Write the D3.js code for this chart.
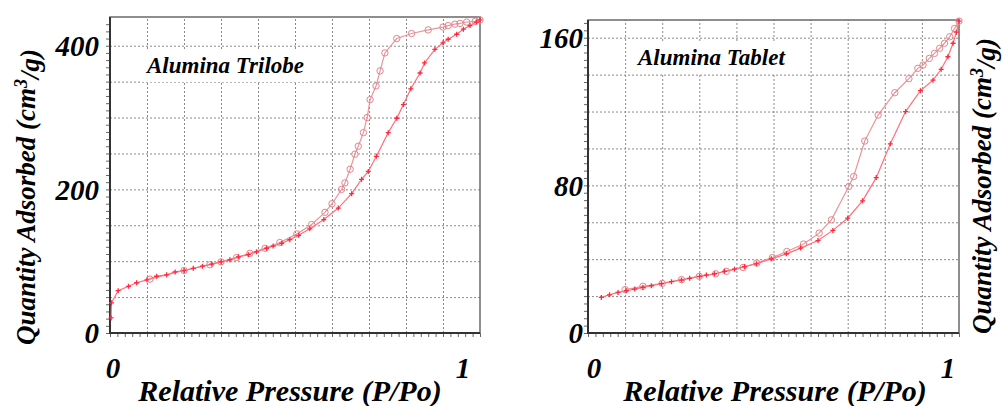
<!DOCTYPE html>
<html lang="en">
  <head>
    <meta charset="UTF-8" />
    <title>isotherms</title>
    <script src="https://cdn.jsdelivr.net/npm/d3@7"></script>
    <style>
      body { margin: 0; background: #fff; }
      text { font-family: "Liberation Serif", "DejaVu Serif", serif; font-weight: bold; font-style: italic; fill: #000; }
    </style>
  </head>
  <body>
    <div id="wrapper"></div>
    <script>
      // Alumina Trilobe
      const trilobeAdsP = [0.003, 0.004, 0.022, 0.05, 0.072, 0.1, 0.126, 0.153, 0.176, 0.2, 0.225, 0.25, 0.275, 0.3, 0.324, 0.347, 0.374, 0.396, 0.423, 0.441, 0.464, 0.486, 0.51, 0.54, 0.578, 0.617, 0.653, 0.68, 0.698, 0.72, 0.752, 0.775, 0.793, 0.813, 0.838, 0.85, 0.878, 0.9, 0.914, 0.937, 0.955, 0.973, 0.99, 1.0];
      const trilobeAdsQ = [21, 42, 59, 65, 70, 74, 79, 81, 85, 87, 90, 93, 96, 99, 102, 106, 109, 113, 118, 121, 125, 130, 136, 145, 158, 174, 194, 214, 225, 246, 279, 299, 318, 340, 362, 376, 395, 404, 409, 416, 423, 428, 433, 436];
      const trilobeDesP = [1.0, 0.987, 0.964, 0.946, 0.932, 0.914, 0.9, 0.86, 0.815, 0.775, 0.743, 0.73, 0.719, 0.703, 0.695, 0.685, 0.671, 0.662, 0.649, 0.635, 0.626, 0.6, 0.581, 0.545, 0.505, 0.459, 0.419, 0.378, 0.342, 0.3, 0.27, 0.2, 0.108];
      const trilobeDesQ = [436, 434, 433, 431, 430, 428, 426, 422, 417, 410, 390, 365, 344, 325, 300, 279, 260, 249, 228, 209, 200, 180, 168, 151, 138, 126, 118, 111, 105, 99, 95, 87, 75];

      // Alumina Tablet
      const tabletAdsP = [0.036, 0.058, 0.081, 0.103, 0.126, 0.148, 0.171, 0.198, 0.225, 0.252, 0.274, 0.301, 0.319, 0.341, 0.368, 0.395, 0.422, 0.454, 0.494, 0.535, 0.573, 0.62, 0.66, 0.7, 0.74, 0.777, 0.815, 0.856, 0.896, 0.93, 0.952, 0.97, 0.984, 0.993, 1.0];
      const tabletAdsQ = [19.3, 20.7, 22, 22.9, 23.8, 24.7, 25.6, 26.7, 27.8, 28.7, 29.6, 30.7, 31.4, 32.1, 33.4, 34.6, 36, 37.5, 40.2, 42.9, 46, 50.1, 55.6, 62.2, 71.6, 84.2, 102.5, 120, 131.3, 137, 142.9, 149.7, 157, 163, 169];
      const tabletDesP = [1.0, 0.988, 0.975, 0.961, 0.948, 0.934, 0.92, 0.903, 0.889, 0.865, 0.827, 0.782, 0.746, 0.716, 0.703, 0.656, 0.623, 0.581, 0.536, 0.497, 0.455, 0.418, 0.373, 0.344, 0.3, 0.252, 0.2, 0.148, 0.1];
      const tabletDesQ = [169, 165, 160.5, 157, 154.3, 151.5, 148.8, 145.2, 143.4, 137.8, 130.2, 118.1, 104, 84.8, 79.4, 61.3, 54.1, 48.2, 44.2, 40.9, 37.9, 35.5, 33.4, 32.1, 30.7, 28.9, 26.9, 25.3, 23.5];

      const trilobeYTicks = [0, 200, 400];
      const tabletYTicks = [0, 80, 160];
      const xTickLabels = ["0", "1"];

      const zip = (xs, ys) => xs.map((x, i) => ({ p: x, q: ys[i] }));

      const svg = d3.select("#wrapper").append("svg")
        .attr("width", 1003).attr("height", 406);

      const panels = [
        {
          title: "Alumina Trilobe", left: 110, right: 480, top: 17, bottom: 333,
          yMax: 440, yGrid: 50, yMinor: 10, yTicks: trilobeYTicks,
          ads: zip(trilobeAdsP, trilobeAdsQ), des: zip(trilobeDesP, trilobeDesQ),
          titleX: 147, titleY: 73, yLabelX: 35, yLabelY: 197,
          x0: 113, x1: 463, tickRight: 99, xTitleX: 290,
        },
        {
          title: "Alumina Tablet", left: 588, right: 959, top: 20, bottom: 333,
          yMax: 169.6, yGrid: 20, yMinor: 4, yTicks: tabletYTicks,
          ads: zip(tabletAdsP, tabletAdsQ), des: zip(tabletDesP, tabletDesQ),
          titleX: 638, titleY: 65, yLabelX: 991, yLabelY: 186,
          x0: 594, x1: 948, tickRight: 583, xTitleX: 775,
        },
      ];

      panels.forEach((pn) => {
        const xScale = d3.scaleLinear().domain([0, 1]).range([pn.left, pn.right]);
        const yScale = d3.scaleLinear().domain([0, pn.yMax]).range([pn.bottom, pn.top]);
        const g = svg.append("g");

        // dotted grid
        g.append("g")
          .attr("transform", `translate(0,${pn.bottom})`)
          .call(d3.axisBottom(xScale).tickValues(d3.range(0.1, 1, 0.1))
            .tickSize(-(pn.bottom - pn.top)).tickFormat(""))
          .call((a) => a.select(".domain").remove())
          .selectAll("line").attr("stroke", "#8a8a8a").attr("stroke-dasharray", "2,2");
        g.append("g")
          .attr("transform", `translate(${pn.left},0)`)
          .call(d3.axisLeft(yScale).tickValues(d3.range(pn.yGrid, pn.yMax, pn.yGrid))
            .tickSize(-(pn.right - pn.left)).tickFormat(""))
          .call((a) => a.select(".domain").remove())
          .selectAll("line").attr("stroke", "#8a8a8a").attr("stroke-dasharray", "2,2");

        // minor ticks
        g.append("g")
          .attr("transform", `translate(0,${pn.bottom})`)
          .call(d3.axisBottom(xScale).tickValues(d3.range(0, 1.001, 0.02)).tickSize(4).tickFormat(""))
          .call((a) => a.select(".domain").remove())
          .selectAll("line").attr("stroke", "#666");
        g.append("g")
          .attr("transform", `translate(${pn.left},0)`)
          .call(d3.axisLeft(yScale).tickValues(d3.range(0, pn.yMax, pn.yMinor)).tickSize(4).tickFormat(""))
          .call((a) => a.select(".domain").remove())
          .selectAll("line").attr("stroke", "#666");

        // frame
        g.append("rect")
          .attr("x", pn.left).attr("y", pn.top)
          .attr("width", pn.right - pn.left).attr("height", pn.bottom - pn.top)
          .attr("fill", "none").attr("stroke", "#6a6a6a").attr("stroke-width", 1.5);
        g.append("path")
          .attr("d", `M${pn.left},${pn.top}V${pn.bottom}H${pn.right}`)
          .attr("fill", "none").attr("stroke", "#333").attr("stroke-width", 2);

        // title with white backing
        const backing = g.append("rect").attr("fill", "#fff");
        const title = g.append("text")
          .attr("x", pn.titleX).attr("y", pn.titleY)
          .style("font-size", "23px").text(pn.title);
        const bb = title.node().getBBox();
        backing.attr("x", bb.x - 4).attr("y", bb.y - 2)
          .attr("width", bb.width + 8).attr("height", bb.height + 6);

        // curves
        const line = d3.line().x((d) => xScale(d.p)).y((d) => yScale(d.q));
        g.append("path").attr("d", line(pn.des))
          .attr("fill", "none").attr("stroke", "#e8959c").attr("stroke-width", 1.2);
        g.append("path").attr("d", line(pn.ads))
          .attr("fill", "none").attr("stroke", "#ff6f7c").attr("stroke-width", 1.2);

        g.selectAll(".des").data(pn.des).join("circle")
          .attr("class", "des")
          .attr("cx", (d) => xScale(d.p)).attr("cy", (d) => yScale(d.q))
          .attr("r", 3.2).attr("fill", "none")
          .attr("stroke", "#e2858d").attr("stroke-width", 1);
        g.selectAll(".ads").data(pn.ads).join("path")
          .attr("class", "ads")
          .attr("transform", (d) => `translate(${xScale(d.p)},${yScale(d.q)})`)
          .attr("d", "M-2.5,0H2.5M0,-2.5V2.5")
          .attr("stroke", "#ff2a3c").attr("stroke-width", 1.3);

        // tick labels
        g.selectAll(".ytl").data(pn.yTicks).join("text")
          .attr("class", "ytl")
          .attr("x", pn.tickRight).attr("y", (d) => yScale(d))
          .attr("dy", "0.35em").attr("text-anchor", "end")
          .style("font-size", "29px").text((d) => d);
        g.selectAll(".xtl").data(xTickLabels).join("text")
          .attr("class", "xtl")
          .attr("x", (d, i) => (i === 0 ? pn.x0 : pn.x1)).attr("y", 368)
          .attr("dy", "0.35em").attr("text-anchor", "middle")
          .style("font-size", "29px").text((d) => d);

        // axis titles
        g.append("text")
          .attr("x", pn.xTitleX).attr("y", 401)
          .attr("text-anchor", "middle").style("font-size", "30px")
          .text("Relative Pressure (P/Po)");
        const yl = g.append("text")
          .attr("transform", `translate(${pn.yLabelX},${pn.yLabelY}) rotate(-90)`)
          .attr("text-anchor", "middle").style("font-size", "27px");
        yl.append("tspan").text("Quantity Adsorbed (cm");
        yl.append("tspan").attr("dy", "-0.45em").style("font-size", "18px").text("3");
        yl.append("tspan").attr("dy", "0.45em").text("/g)");
      });
    </script>
  </body>
</html>
